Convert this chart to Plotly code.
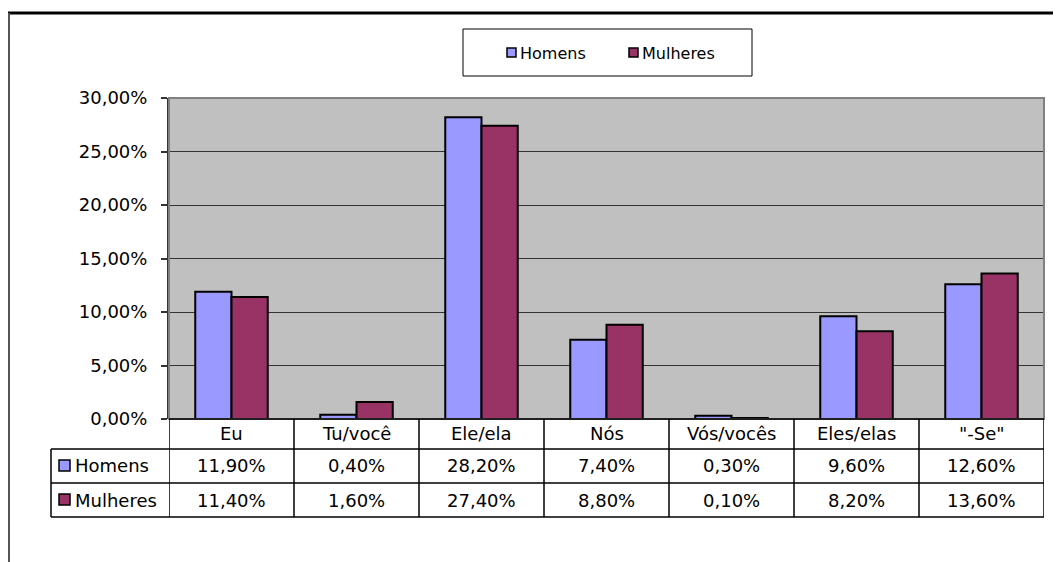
import plotly.graph_objects as go

categories = ["Eu", "Tu/você", "Ele/ela", "Nós", "Vós/vocês", "Eles/elas", "\"-Se\""]
series_names = ["Homens", "Mulheres"]
homens = [11.9, 0.4, 28.2, 7.4, 0.3, 9.6, 12.6]
mulheres = [11.4, 1.6, 27.4, 8.8, 0.1, 8.2, 13.6]
colors = ["#9999FF", "#993366"]
y_ticks = [0, 5, 10, 15, 20, 25, 30]

OFF = 8  # page body margin in the browser
W, H = 1061 - OFF, 562 - OFF
L, R, T, B = 169, 1044, 98, 419  # plot area in screen pixels


def px(x):
    return (x - L) / (R - L)


def py(y):
    return (B - y) / (B - T)


def pct(v):
    return f"{v:.2f}".replace(".", ",") + "%"


FONT = "DejaVu Sans, Liberation Sans, Arial, sans-serif"

fig = go.Figure()
for name, vals, col in zip(series_names, [homens, mulheres], colors):
    fig.add_trace(go.Bar(
        x=categories, y=[v / 100 for v in vals], name=name,
        marker=dict(color=col, line=dict(color="#000000", width=2)),
        showlegend=False,
    ))

shapes = []
annotations = []

# page border (top thick line, left thin line)
shapes.append(dict(type="line", xref="paper", yref="paper", x0=px(8), x1=px(1061),
                   y0=py(13), y1=py(13), line=dict(color="#000000", width=3)))
shapes.append(dict(type="line", xref="paper", yref="paper", x0=px(9), x1=px(9),
                   y0=py(13), y1=py(562), line=dict(color="#555555", width=2)))

# legend box
shapes.append(dict(type="rect", xref="paper", yref="paper", x0=px(463), x1=px(752),
                   y0=py(76), y1=py(29), line=dict(color="#000000", width=1),
                   fillcolor="white", layer="below"))
legend_pos = [507, 629]
for name, col, lx in zip(series_names, colors, legend_pos):
    shapes.append(dict(type="rect", xref="paper", yref="paper", x0=px(lx), x1=px(lx + 9),
                       y0=py(57), y1=py(48), fillcolor=col,
                       line=dict(color="#000000", width=1.5)))
    annotations.append(dict(x=px(lx + 11), y=py(53), xref="paper", yref="paper", text=name,
                            showarrow=False, font=dict(size=16, color="#000000", family=FONT),
                            xanchor="left", yanchor="middle"))

# plot area border (gray)
shapes.append(dict(type="rect", xref="paper", yref="paper", x0=0, x1=1, y0=0, y1=1,
                   line=dict(color="#808080", width=2)))

# data table
row_tops = [419, 449, 483, 517]
for i, yy in enumerate(row_tops):
    x_start = 169 if i == 0 else 51
    shapes.append(dict(type="line", xref="paper", yref="paper", x0=px(x_start), x1=px(1044),
                       y0=py(yy), y1=py(yy), line=dict(color="#000000", width=1.5)))
n = len(categories)
for k in range(n + 1):
    shapes.append(dict(type="line", xref="x", yref="paper", x0=k - 0.5, x1=k - 0.5,
                       y0=py(419), y1=py(517), line=dict(color="#000000", width=1.5)))
shapes.append(dict(type="line", xref="paper", yref="paper", x0=px(51), x1=px(51),
                   y0=py(449), y1=py(517), line=dict(color="#000000", width=1.5)))

for c in categories:
    annotations.append(dict(x=c, y=py(434), xref="x", yref="paper", text=c, showarrow=False,
                            font=dict(size=18, color="#000000", family=FONT),
                            xanchor="center", yanchor="middle"))
row_centers = [466, 500]
for name, vals, col, yc in zip(series_names, [homens, mulheres], colors, row_centers):
    shapes.append(dict(type="rect", xref="paper", yref="paper", x0=px(59), x1=px(70),
                       y0=py(yc + 5), y1=py(yc - 6), fillcolor=col,
                       line=dict(color="#000000", width=1.5)))
    annotations.append(dict(x=px(73), y=py(yc), xref="paper", yref="paper", text=name,
                            showarrow=False, font=dict(size=18, color="#000000", family=FONT),
                            xanchor="left", yanchor="middle"))
    for c, v in zip(categories, vals):
        annotations.append(dict(x=c, y=py(yc), xref="x", yref="paper", text=pct(v),
                                showarrow=False, font=dict(size=18, color="#000000", family=FONT),
                                xanchor="center", yanchor="middle"))

fig.update_layout(
    width=W, height=H,
    margin=dict(l=L - OFF, r=(1061 - R), t=T - OFF, b=H - (B - OFF), pad=0),
    paper_bgcolor="white", plot_bgcolor="#C0C0C0",
    separators=", ",
    barmode="group", bargap=0.42, bargroupgap=0,
    font=dict(family=FONT, size=18, color="#000000"),
    shapes=shapes, annotations=annotations,
    showlegend=False,
    xaxis=dict(showticklabels=False, showgrid=False, ticks="", showline=False,
               zeroline=False, range=[-0.5, n - 0.5]),
    yaxis=dict(range=[0, 0.30], tickvals=[t / 100 for t in y_ticks], tickformat=".2%",
               showgrid=True, gridcolor="#333333", gridwidth=1, zeroline=False,
               showline=True, linecolor="#333333", linewidth=2,
               ticks="outside", ticklen=6, tickcolor="#333333", tickwidth=1.5,
               ticklabelstandoff=10,
               tickfont=dict(size=18, family=FONT, color="#000000")),
)

fig.write_html("out.html")
